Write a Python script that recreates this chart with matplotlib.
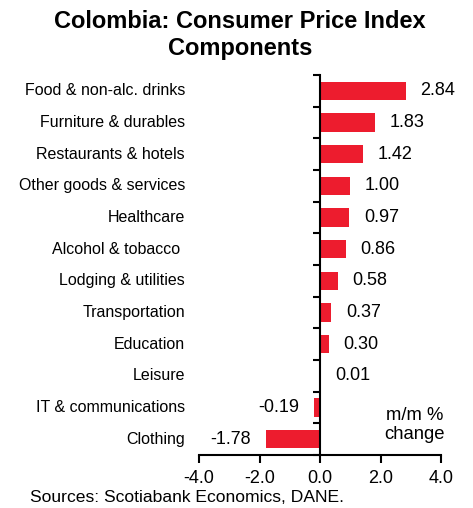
import matplotlib
matplotlib.use("Agg")
import matplotlib.pyplot as plt
from matplotlib.transforms import blended_transform_factory

plt.rcParams['font.family'] = ['Liberation Sans', 'DejaVu Sans']

categories = ["Food & non-alc. drinks", "Furniture & durables", "Restaurants & hotels",
              "Other goods & services", "Healthcare", "Alcohol & tobacco ",
              "Lodging & utilities", "Transportation", "Education", "Leisure",
              "IT & communications", "Clothing"]
values = [2.84, 1.83, 1.42, 1.00, 0.97, 0.86, 0.58, 0.37, 0.30, 0.01, -0.19, -1.78]
xticks = [-4.0, -2.0, 0.0, 2.0, 4.0]

fig = plt.figure(figsize=(4.73, 5.08), dpi=100)
ax = fig.add_axes([199/473, 1-455/508, 242/473, 380/508])

ypos = list(range(len(categories)))
ax.barh(ypos, values, height=0.57, color="#ED1C2E")
ax.set_ylim(len(categories)-0.5, -0.5)
ax.set_xlim(-4, 4)

for s in ["top", "right"]:
    ax.spines[s].set_visible(False)
ax.spines["left"].set_position(("data", 0))
ax.spines["left"].set_linewidth(1.5)
ax.spines["bottom"].set_linewidth(1.5)

ax.set_yticks([i + 0.5 for i in range(-1, len(categories))])
ax.set_yticklabels([])
ax.tick_params(axis="y", direction="out", length=5, width=1.5)
ax.set_xticks(xticks)
ax.set_xticklabels([f"{t:.1f}" for t in xticks], fontsize=13)
ax.tick_params(axis="x", direction="out", length=6, width=1.5, pad=5)

tr = blended_transform_factory(ax.transAxes, ax.transData)
for i, c in enumerate(categories):
    ax.text(-0.058, i, c, transform=tr, ha="right", va="center", fontsize=11.5)

for i, v in enumerate(values):
    if v >= 0:
        ax.annotate(f"{v:.2f}", (v, i), xytext=(10.5, 0), textcoords="offset points",
                    ha="left", va="center", fontsize=13)
    else:
        ax.annotate(f"{v:.2f}", (v, i), xytext=(-11, 0), textcoords="offset points",
                    ha="right", va="center", fontsize=13)

fig.text(0.507, 0.932, "Colombia: Consumer Price Index\nComponents", ha="center",
         va="center", fontsize=17, fontweight="bold", linespacing=1.22)
fig.text(0.877, 0.163, "m/m %\nchange", ha="center", va="center", fontsize=13.3,
         linespacing=1.2)
fig.text(30/473, 1-497/508, "Sources: Scotiabank Economics, DANE.", ha="left",
         va="center", fontsize=12.6)

fig.savefig("out.png", dpi=100)
